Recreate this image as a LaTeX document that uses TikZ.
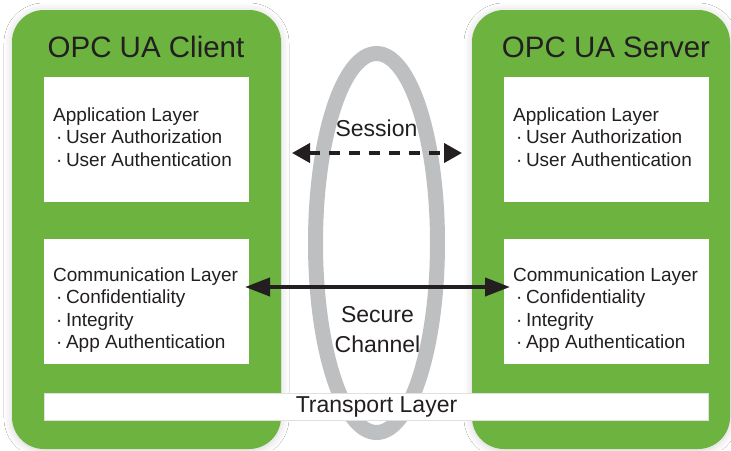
\documentclass[tikz,border=0pt]{standalone}
\usepackage{fontspec}
\setmainfont{Liberation Sans}
\usetikzlibrary{shapes.geometric,arrows.meta,shadows.blur}
\definecolor{opcgreen}{HTML}{6CB33F}
\definecolor{ringgray}{HTML}{BDBFC1}
\definecolor{ink}{HTML}{231F20}
\newcommand\opcbul{\hspace*{3pt}·\hspace{3.5pt}}
\begin{document}
\begin{tikzpicture}[x=1pt,y=-1pt,
  greenbox/.style={fill=opcgreen, rounded corners=32pt, inner sep=0pt, outer sep=0pt, anchor=north west,
    blur shadow={shadow xshift=0pt,shadow yshift=-1pt,shadow blur radius=8pt,shadow opacity=18}},
  layerbox/.style={fill=white, inner sep=0pt, outer sep=0pt, anchor=north west, minimum width=205pt, minimum height=125pt},
  titletext/.style={font=\fontsize{29.5}{34}\selectfont, text=ink, anchor=base, inner sep=0pt},
  bodytext/.style={font=\fontsize{19}{22.5}\selectfont, text=ink, align=left, anchor=base west, inner sep=0pt},
  midtext/.style={font=\fontsize{23}{30}\selectfont, text=ink, anchor=base, inner sep=0pt, align=center},
  ringshape/.style={draw=ringgray, line width=15pt, ellipse, inner sep=0pt, minimum width=122pt, minimum height=379pt},
  sessarrow/.style={draw=ink, line width=4pt, dash pattern=on 11pt off 9pt, {Triangle[length=18pt,width=19pt]}-{Triangle[length=18pt,width=19pt]}},
  secarrow/.style={draw=ink, line width=4pt, {Triangle[length=25pt,width=18pt]}-{Triangle[length=25pt,width=18pt]}}
]
\useasboundingbox (0,0) rectangle (731,450);
\fill[white] (0,0) rectangle (731,450);

% green application boxes
\node[greenbox, minimum width=269pt, minimum height=439pt] (client) at (12,10) {};
\node[greenbox, minimum width=258pt, minimum height=439pt] (server) at (472,10) {};

% layer boxes
\node[layerbox] (clientApp) at (44,77) {};
\node[layerbox] (clientComm) at (44,239) {};
\node[layerbox] (serverApp) at (504,77) {};
\node[layerbox] (serverComm) at (504,239) {};

% secure channel ring
\node[ringshape] (ring) at (376.5,243) {};

% transport bar
\node[fill=white, draw=black!12, line width=0.6pt, anchor=north west, inner sep=0pt, outer sep=0pt,
      minimum width=664pt, minimum height=27pt] (transport) at (44,393) {};

% titles
\node[titletext] (clientTitle) at (146,57) {OPC UA Client};
\node[titletext] (serverTitle) at (606,57) {OPC UA Server};

% layer texts (base anchor = last line)
\node[bodytext] (clientAppText) at (53,166) {Application Layer\\\opcbul User Authorization\\\opcbul User Authentication};
\node[bodytext] (serverAppText) at (513,166) {Application Layer\\\opcbul User Authorization\\\opcbul User Authentication};
\node[bodytext] (clientCommText) at (53,348.5) {Communication Layer\\\opcbul Confidentiality\\\opcbul Integrity\\\opcbul App Authentication};
\node[bodytext] (serverCommText) at (513,348.5) {Communication Layer\\\opcbul Confidentiality\\\opcbul Integrity\\\opcbul App Authentication};

% middle labels
\node[midtext] (sessionText) at (376.5,136) {Session};
\node[midtext] (secureText) at (377.5,352) {Secure\\Channel};
\node[midtext] (transportText) at (376.5,412) {Transport Layer};

% connectors
\coordinate (sessL) at (292,153);
\coordinate (sessR) at (462,153);
\coordinate (secL) at (245,287);
\coordinate (secR) at (510,287);
\draw[sessarrow] (sessL) -- (sessR);
\draw[secarrow] (secL) -- (secR);
\end{tikzpicture}
\end{document}
